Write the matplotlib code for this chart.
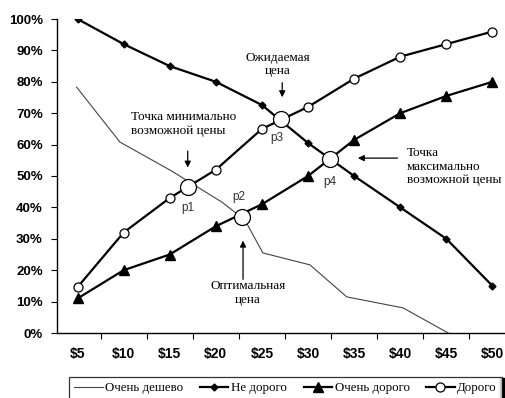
import numpy as np
import matplotlib
matplotlib.use("Agg")
import matplotlib.pyplot as plt
from matplotlib.patches import Rectangle

# price points ($)
prices = [5, 10, 15, 20, 25, 30, 35, 40, 45, 50]
price_labels = ["$5", "$10", "$15", "$20", "$25", "$30", "$35", "$40", "$45", "$50"]

# "too cheap" curve was drawn with its own (slightly off-grid) vertices
cheap_x = [4.9, 9.6, 15.2, 20.65, 23.15, 25.1, 30.2, 34.2, 40.3, 45.2]
cheap_y = [78.3, 60.8, 51.6, 41.7, 36.0, 25.5, 21.7, 11.5, 8.0, 0.0]

not_expensive = [100, 92, 85, 80, 72.6, 60.5, 50, 40, 30, 15]
very_expensive = [11, 20, 25, 34, 41, 50, 61.5, 70, 75.5, 80]
expensive = [14.6, 32, 43, 52, 65, 72, 81, 88, 92, 96]

# intersection points p1..p4
p_names = ["p1", "p2", "p3", "p4"]
p_x = [16.95, 22.8, 27.1, 32.4]
p_y = [46.5, 37.0, 68.0, 55.5]

serif = "Liberation Serif"
sans = "Liberation Sans"

fig = plt.figure(figsize=(5.06, 3.98), dpi=100)
W, H = 506, 398
ax = fig.add_axes([56.7 / W, (H - 333) / H, (W - 56.7) / W, (333 - 19) / H])

ax.plot(cheap_x, cheap_y, color="#444444", linewidth=0.8, label="Очень дешево")
ax.plot(prices, not_expensive, color="black", linewidth=1.6, marker="D", markersize=3.5,
        label="Не дорого")
ax.plot(prices, very_expensive, color="black", linewidth=1.6, marker="^", markersize=7.5,
        label="Очень дорого")
ax.plot(prices, expensive, color="black", linewidth=1.6, marker="o", markersize=6.5,
        markerfacecolor="white", markeredgewidth=0.9, label="Дорого")

ax.plot(p_x, p_y, linestyle="none", marker="o", markersize=11.5, markerfacecolor="white",
        markeredgecolor="black", markeredgewidth=0.9, zorder=5)
p_off = [(0, -15), (-2, 14), (-3, -13), (0, -17)]
for name, x, y, (dx, dy) in zip(p_names, p_x, p_y, p_off):
    ax.annotate(name, (x, y), xytext=(dx, dy), textcoords="offset points",
                ha="center", va="center", fontsize=8.5, family=sans, color="#333333")

ax.set_xlim(2.74, 51.47)
ax.set_ylim(0, 100)
for s in ["top", "right"]:
    ax.spines[s].set_visible(False)
ax.spines["left"].set_linewidth(1.0)
ax.spines["bottom"].set_linewidth(1.0)

ax.set_xticks(prices)
ax.set_xticklabels(price_labels, fontsize=10, fontweight="bold", family=sans)
ax.set_xticks([p + 2.5 for p in prices[:-1]], minor=True)
ax.tick_params(axis="x", which="major", length=0, pad=10)
ax.tick_params(axis="x", which="minor", length=4, direction="out", width=0.8)

ax.set_yticks(np.arange(0, 101, 10))
ax.set_yticklabels([f"{v}%" for v in range(0, 101, 10)], fontsize=9.5, fontweight="bold",
                   family=sans)
ax.tick_params(axis="y", length=4, direction="out", width=0.8, pad=6)

arrow = dict(arrowstyle="-|>", color="black", lw=0.9, mutation_scale=9)
fs = 9.5
ax.text(10.8, 66.6, "Точка минимально\nвозможной цены", ha="left", va="center",
        fontsize=fs, family=serif, linespacing=1.2)
ax.annotate("", xy=(16.95, 51.8), xytext=(16.95, 58.8), arrowprops=arrow)

ax.text(26.75, 85.5, "Ожидаемая\nцена", ha="center", va="center", fontsize=fs, family=serif,
        linespacing=1.2)
ax.annotate("", xy=(27.2, 74.2), xytext=(27.2, 80.6), arrowprops=arrow)

ax.text(23.5, 12.7, "Оптимальная\nцена", ha="center", va="center", fontsize=fs, family=serif,
        linespacing=1.2)
ax.annotate("", xy=(22.95, 30.3), xytext=(22.95, 16.2), arrowprops=arrow)

ax.text(40.7, 53.0, "Точка\nмаксимально\nвозможной цены", ha="left", va="center",
        fontsize=fs, family=serif, linespacing=1.2)
ax.annotate("", xy=(35.1, 55.7), xytext=(40.0, 55.7), arrowprops=arrow)

leg = fig.legend(loc="upper left", bbox_to_anchor=(69 / W, (H - 377) / H, (502 - 69) / W, 0),
                 mode="expand", ncol=4, frameon=True, fancybox=False, handlelength=2.2,
                 handletextpad=0.2, borderaxespad=0, prop={"family": serif, "size": 9.3})
leg.get_frame().set_edgecolor("black")
leg.get_frame().set_linewidth(0.9)
fig.patches.append(Rectangle((500 / W, 0), 5 / W, 20 / H, transform=fig.transFigure,
                             color="black"))

fig.savefig("out.png", dpi=100)
